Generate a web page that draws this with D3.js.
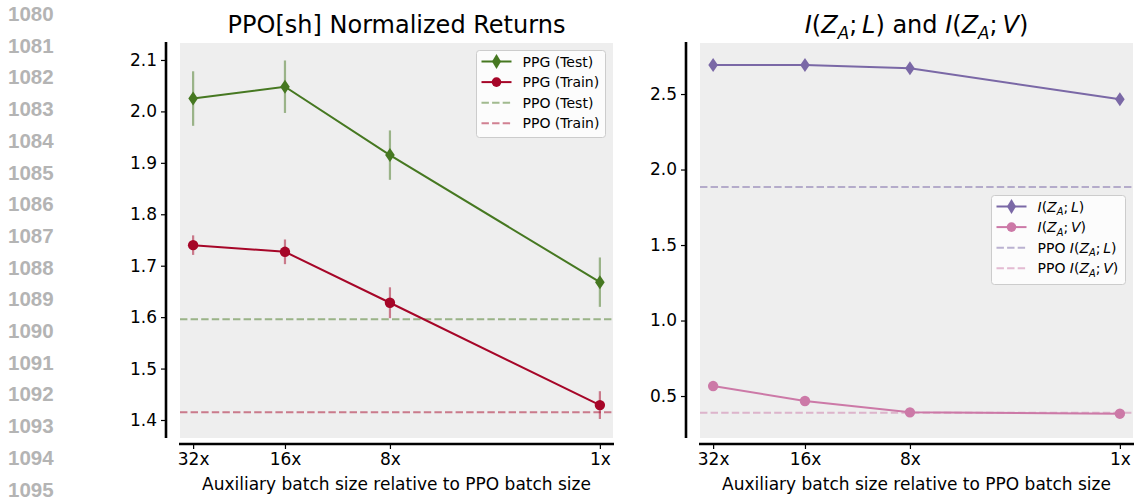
<!DOCTYPE html>
<html>
<head>
<meta charset="utf-8">
<script src="https://cdn.jsdelivr.net/npm/d3@7"></script>
<style>
  html, body { margin: 0; padding: 0; background: #ffffff; }
  svg { display: block; }
  text { font-family: "DejaVu Sans", sans-serif; }
</style>
</head>
<body>
<svg id="chart" width="1134" height="499"></svg>
<script>
// ---- data ----
const xCoord = [1, 8, 16, 32];
const xTickLabels = ["32x", "16x", "8x", "1x"];

const ppgTest = [2.025, 2.048, 1.915, 1.668];
const ppgTestErr = [0.053, 0.051, 0.048, 0.048];
const ppgTrain = [1.740, 1.727, 1.628, 1.429];
const ppgTrainErr = [0.019, 0.024, 0.030, 0.027];
const ppoTest = 1.596;
const ppoTrain = 1.415;
const leftTicks = [1.4, 1.5, 1.6, 1.7, 1.8, 1.9, 2.0, 2.1];

const infoL = [2.692, 2.693, 2.670, 2.465];
const infoV = [0.566, 0.467, 0.392, 0.383];
const ppoInfoL = 1.884;
const ppoInfoV = 0.390;
const rightTicks = [0.5, 1.0, 1.5, 2.0, 2.5];

const lineNumbers = d3.range(1080, 1096);

// ---- style ----
const C = { green: "#467821", red: "#A60628", purple: "#7A68A6", pink: "#CC79A7", bg: "#eeeeee" };

const svg = d3.select("#chart");

// margin line numbers
svg.append("g").selectAll("text").data(lineNumbers).join("text")
  .attr("x", 8).attr("y", (d, i) => 21 + i * 31.7)
  .attr("fill", "#b4b4b4")
  .style("font-family", "'Liberation Sans', Arial, sans-serif")
  .style("font-weight", "bold")
  .style("font-size", "20.5px")
  .text(d => d);

function diamondPath(cx, cy, hw, hh) {
  return `M${cx},${cy - hh}L${cx + hw},${cy}L${cx},${cy + hh}L${cx - hw},${cy}Z`;
}

function drawPanel(cfg) {
  const g = svg.append("g");
  const x = d3.scaleLinear().domain([0, 33]).range([cfg.left, cfg.right]);
  const y = d3.scaleLinear().domain(cfg.yDomain).range([438, 43]);

  g.append("rect").attr("x", cfg.left).attr("y", 43)
    .attr("width", cfg.right - cfg.left).attr("height", 438 - 43)
    .attr("fill", C.bg);

  // y axis (offset spine)
  const yAxis = d3.axisLeft(y).tickValues(cfg.ticks).tickFormat(d3.format(".1f"))
    .tickSize(5).tickPadding(4);
  const ya = g.append("g").attr("transform", `translate(${cfg.left - 14},0)`).call(yAxis);
  ya.select(".domain").remove();
  ya.append("line").attr("x1", 0).attr("x2", 0).attr("y1", 42).attr("y2", 438)
    .attr("stroke", "#000").attr("stroke-width", 2.6);
  ya.selectAll(".tick line").attr("stroke", "#000").attr("stroke-width", 1.2);
  ya.selectAll(".tick text").style("font-size", "17px").attr("fill", "#000")
    .style("font-family", "'DejaVu Sans', sans-serif");

  // x axis
  const xAxis = d3.axisBottom(x).tickValues(xCoord)
    .tickFormat((d, i) => xTickLabels[i]).tickSize(5).tickPadding(4);
  const xa = g.append("g").attr("transform", "translate(0,444)").call(xAxis);
  xa.select(".domain").remove();
  xa.append("line").attr("x1", cfg.left - 1).attr("x2", cfg.right + 1).attr("y1", 0).attr("y2", 0)
    .attr("stroke", "#000").attr("stroke-width", 2.6);
  xa.selectAll(".tick line").attr("stroke", "#000").attr("stroke-width", 1.2);
  xa.selectAll(".tick text").style("font-size", "17px").attr("fill", "#000")
    .style("font-family", "'DejaVu Sans', sans-serif");

  g.append("text").attr("x", (cfg.left + cfg.right) / 2).attr("y", 490)
    .attr("text-anchor", "middle").style("font-size", "17px")
    .text("Auxiliary batch size relative to PPO batch size");

  // title
  const t = g.append("text").attr("x", (cfg.left + cfg.right) / 2).attr("y", 33)
    .attr("text-anchor", "middle").style("font-size", "24px");
  cfg.title(t);

  // horizontal reference lines
  cfg.refs.forEach(r => {
    g.append("line").attr("x1", cfg.left).attr("x2", cfg.right)
      .attr("y1", y(r.value)).attr("y2", y(r.value))
      .attr("stroke", r.color).attr("stroke-opacity", 0.5)
      .attr("stroke-width", 2).attr("stroke-dasharray", "7.4,3.2");
  });

  // series
  const line = d3.line().x((d, i) => x(xCoord[i])).y(d => y(d));
  cfg.series.forEach(s => {
    if (s.err) {
      g.append("g").selectAll("line").data(s.values).join("line")
        .attr("x1", (d, i) => x(xCoord[i])).attr("x2", (d, i) => x(xCoord[i]))
        .attr("y1", (d, i) => y(d - s.err[i])).attr("y2", (d, i) => y(d + s.err[i]))
        .attr("stroke", s.color).attr("stroke-opacity", 0.5).attr("stroke-width", 2.2);
    }
    g.append("path").datum(s.values).attr("d", line)
      .attr("fill", "none").attr("stroke", s.color).attr("stroke-width", 2);
    const m = g.append("g");
    if (s.marker === "d") {
      m.selectAll("path").data(s.values).join("path")
        .attr("d", (d, i) => diamondPath(x(xCoord[i]), y(d), 4.8, 7))
        .attr("fill", s.color);
    } else {
      m.selectAll("circle").data(s.values).join("circle")
        .attr("cx", (d, i) => x(xCoord[i])).attr("cy", d => y(d)).attr("r", 5.2)
        .attr("fill", s.color);
    }
  });

  // legend
  const L = cfg.legend;
  const lg = g.append("g");
  lg.append("rect").attr("x", L.x).attr("y", L.y).attr("width", L.w).attr("height", L.h)
    .attr("rx", 3).attr("fill", "#ffffff").attr("fill-opacity", 0.8)
    .attr("stroke", "#cccccc").attr("stroke-width", 1);
  L.items.forEach((it, i) => {
    const cy = L.y + 11 + i * 20.6;
    const hx1 = L.x + 5, hx2 = L.x + 35;
    const ln = lg.append("line").attr("x1", hx1).attr("x2", hx2).attr("y1", cy).attr("y2", cy)
      .attr("stroke", it.color).attr("stroke-width", 2);
    if (it.dashed) ln.attr("stroke-opacity", 0.5).attr("stroke-dasharray", "7.4,3.2");
    if (it.marker === "d") lg.append("path").attr("d", diamondPath((hx1 + hx2) / 2, cy, 4.5, 7.5)).attr("fill", it.color);
    if (it.marker === "o") lg.append("circle").attr("cx", (hx1 + hx2) / 2).attr("cy", cy).attr("r", 4.8).attr("fill", it.color);
    const tx = lg.append("text").attr("x", L.x + 46).attr("y", cy + 5).style("font-size", "14px");
    it.label(tx);
  });
}

function plain(t, s) { t.append("tspan").text(s); }
function mi(t, s) { t.append("tspan").style("font-style", "italic").text(s); }
function mutual(t, v, size) {
  mi(t, "I"); plain(t, "("); mi(t, "Z");
  t.append("tspan").style("font-style", "italic").style("font-size", size * 0.7 + "px")
    .attr("dy", size * 0.25).text("A");
  t.append("tspan").attr("dy", -size * 0.25).text(";\u2009");
  mi(t, v); plain(t, ")");
}

drawPanel({
  left: 180, right: 613, yDomain: [1.365, 2.133], ticks: leftTicks,
  title: t => t.text("PPO[sh] Normalized Returns"),
  refs: [{ value: ppoTest, color: C.green }, { value: ppoTrain, color: C.red }],
  series: [
    { values: ppgTest, err: ppgTestErr, color: C.green, marker: "d" },
    { values: ppgTrain, err: ppgTrainErr, color: C.red, marker: "o" }
  ],
  legend: {
    x: 476.5, y: 50.5, w: 129, h: 87,
    items: [
      { color: C.green, marker: "d", label: t => t.text("PPG (Test)") },
      { color: C.red, marker: "o", label: t => t.text("PPG (Train)") },
      { color: C.green, dashed: true, label: t => t.text("PPO (Test)") },
      { color: C.red, dashed: true, label: t => t.text("PPO (Train)") }
    ]
  }
});

drawPanel({
  left: 700, right: 1133, yDomain: [0.222, 2.838], ticks: rightTicks,
  title: t => { mutual(t, "L", 24); plain(t, " and "); mutual(t, "V", 24); },
  refs: [{ value: ppoInfoL, color: C.purple }, { value: ppoInfoV, color: C.pink }],
  series: [
    { values: infoL, color: C.purple, marker: "d" },
    { values: infoV, color: C.pink, marker: "o" }
  ],
  legend: {
    x: 991.5, y: 195.5, w: 134, h: 89,
    items: [
      { color: C.purple, marker: "d", label: t => mutual(t, "L", 14) },
      { color: C.pink, marker: "o", label: t => mutual(t, "V", 14) },
      { color: C.purple, dashed: true, label: t => { plain(t, "PPO "); mutual(t, "L", 14); } },
      { color: C.pink, dashed: true, label: t => { plain(t, "PPO "); mutual(t, "V", 14); } }
    ]
  }
});
</script>
</body>
</html>
